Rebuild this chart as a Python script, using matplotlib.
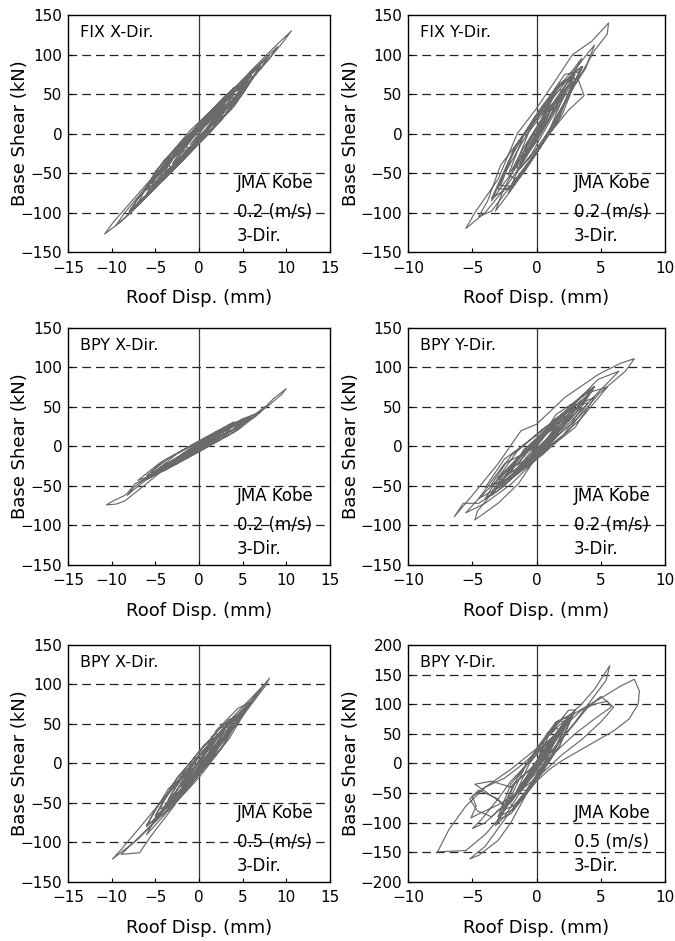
import numpy as np
import matplotlib.pyplot as plt

plt.rcParams['font.family'] = ['DejaVu Sans']

# (roof displacement mm, base shear kN) traced along each response history;
# the *_core lists are the many small cycles around the origin
fix_x = [
    (0, 0), (1.2, 18), (2.5, 31), (1.0, 8), (-1.5, -24), (-3, -38),
    (-1.5, -14), (1.5, 24), (4, 50), (2.0, 20), (-2.0, -30), (-5, -62),
    (-3, -32), (1, 18), (6, 74), (4, 44), (0, -8), (-4, -56), (-8, -98),
    (-6, -68), (-2, -16), (2, 34), (6, 80), (8.5, 108), (10.6, 130),
    (9.5, 114), (6, 68), (2, 18), (-2, -32), (-6, -80), (-9, -112), (-10.8, -127),
    (-9.8, -112), (-6, -64), (-2, -16), (2, 32), (6, 78), (9, 110),
    (8, 94), (4, 44), (0, -10), (-4, -58), (-8, -102), (-9.5, -116),
    (-8.5, -100), (-5, -54), (-1, -2), (3, 42), (8, 98),
    (7, 82), (3, 30), (-1, -20), (-5, -68), (-8, -100),
    (-7, -82), (-3, -30), (1, 18), (5, 64), (7, 86),
    (6, 68), (2, 16), (-2, -30), (-6, -76),
    (-5, -58), (-2, -18), (2, 30), (5, 62),
    (4, 44), (1, 4), (-2, -30), (-4, -50),
    (-3, -32), (0, 8), (3, 40), (4, 50),
    (3, 32), (0, -8), (-3, -38),
    (-2, -20), (0, 6), (3, 38),
    (2, 20), (-0.5, -12), (-2, -25),
    (-1, -8), (1, 16), (2, 24),
    (1, 8), (-1, -14), (0, 0),
]
fix_x_core = [
    (0, 0), (2, 35), (4, 56), (5.5, 63), (3, 24), (-1, -24), (-4, -58), (-5.5, -63),
    (-3, -24), (1, 24), (4, 58), (6.5, 75), (4, 34), (0, -12), (-3.5, -52), (-6.5, -75),
    (-4, -34), (0, 12), (3, 48), (5, 58), (2.5, 16), (-1, -24), (-3.5, -52), (-4.5, -52),
    (-2, -11), (1, 22), (3, 44), (4, 46), (2, 12), (-1, -22), (-3, -44), (-3.5, -40),
    (-1.5, -6), (1, 20), (2.5, 38), (3, 35), (1.5, 6), (-1, -20), (-2.5, -36), (-2, -23),
    (0, 8), (1.5, 26), (2, 23), (0.5, -4), (-1, -18), (-1.5, -17), (0, 4), (1, 12),
    (4.5, 60), (7, 86), (5, 50), (1, -2), (-3, -46), (-7, -88), (-5, -48), (-1, 4),
    (3, 46), (6, 69), (3.5, 30), (-0.5, -18), (-4, -58), (-6, -69), (-3.5, -30),
    (0.5, 18), (4, 58), (0, 0),
]

fix_y = [
    (0, 0), (0.5, 18), (1, 26), (0.4, 6), (-0.6, -20), (-1.2, -30),
    (-0.6, -10), (0.5, 20), (1.8, 45), (1, 20), (-0.8, -24), (-2, -48),
    (-1, -18), (0.6, 24), (2.5, 62), (1.5, 32), (-0.5, -20), (-2.5, -62), (-3.5, -85),
    (-2.8, -60), (-1.5, -22), (0, 20), (1.5, 55), (2.8, 80), (3.5, 95),
    (2.5, 62), (1, 20), (-1, -35), (-2.5, -70), (-4, -100), (-5.5, -120),
    (-4.8, -100), (-3, -58), (-1.5, 0), (0, 32), (1.5, 68), (2.8, 100), (4.3, 117), (5.6, 140),
    (5.5, 126), (4.5, 105), (3, 62), (1.2, 10), (0, -22), (-1.5, -55), (-3.5, -98), (-4.5, -105),
    (-3.8, -85), (-2.8, -40), (-1.5, -12), (0, 18), (2, 60), (3.8, 98), (4.5, 112),
    (3.8, 82), (2.5, 50), (1, 5), (-0.5, -35), (-2, -72), (-3.2, -98),
    (-2.6, -72), (-1.2, -28), (0.3, 15), (2, 56), (3, 78), (3.6, 85),
    (3.2, 70), (3.7, 48), (2.5, 30), (0.8, -4), (-0.8, -45), (-2.2, -75),
    (-1.6, -52), (-0.4, -12), (1, 26), (2.3, 62), (3, 75),
    (2.2, 48), (0.9, 12), (-0.4, -26), (-1.6, -50),
    (-1, -30), (0.2, 4), (1.4, 38), (2, 50),
    (1.4, 30), (0.4, 2), (-0.8, -28), (-1.2, -36),
    (-0.6, -14), (0.4, 12), (1, 26),
    (0.5, 10), (-0.3, -10), (0, 0),
]
fix_y_core = [
    (0, 0), (1, 45), (2.2, 68), (3, 70), (1.8, 22), (-0.5, -35), (-2, -70), (-3, -70),
    (-1.8, -20), (0.5, 35), (2.2, 75), (3.3, 78), (2, 24), (0, -25), (-1.8, -66), (-2.8, -66),
    (-1.6, -15), (0.5, 36), (2, 66), (2.8, 66), (1.6, 14), (-0.3, -30), (-1.6, -58), (-2.2, -52),
    (-1, -2), (0.6, 34), (1.8, 56), (2.2, 52), (1, 4), (-0.5, -30), (-1.4, -46), (-1.6, -38),
    (-0.6, 2), (0.6, 28), (1.4, 40), (1.2, 26), (0, -10), (-0.9, -30), (-0.8, -14), (0.2, 10),
    (1.5, 55), (3.5, 85), (2.2, 38), (0.2, -20), (-1.8, -64), (-3.5, -82), (-2.2, -36),
    (-0.2, 20), (1.8, 64), (0, 0),
]

bpy_x_02 = [
    (0, 0), (1, 8), (2, 14), (1, 6), (-1, -8), (-2.5, -17),
    (-1.5, -9), (0.5, 5), (3, 20), (2, 11), (0, -3), (-3.5, -24),
    (-2.5, -15), (0, 2), (4, 27), (3, 17), (0, -4), (-4.5, -31),
    (-3.5, -21), (0, 3), (5, 31), (4, 22), (0, -5), (-5.5, -36),
    (-4.5, -27), (-1, -4), (3, 21), (6, 38), (5, 28), (1, 3), (-3, -23), (-6.5, -43),
    (-7.3, -47), (-8, -57), (-8.5, -62), (-10, -70), (-10.6, -74), (-9.5, -73),
    (-8.5, -69), (-7, -56), (-4, -29), (0, 2), (4, 26), (7, 44), (7.8, 52),
    (8.5, 60), (10, 73), (9.5, 66), (8, 52), (6, 35), (2, 9), (-2, -17),
    (-6, -42), (-7.5, -55), (-8.2, -62), (-7.5, -52), (-5, -32), (-1, -4),
    (3, 22), (6.5, 41), (7.5, 50), (6.5, 38), (3, 16), (-1, -10), (-4, -30),
    (-6, -42), (-5, -31), (-2, -12), (2, 16), (5, 32), (4, 22), (1, 2),
    (-2, -17), (-4, -28), (-3, -19), (0, 2), (3, 22), (2, 12), (0, -3),
    (-2, -15), (-1, -6), (1, 8), (0, 0),
]
bpy_x_02_core = [
    (0, 0), (2, 18), (4, 30), (5.5, 33), (3.5, 15), (0, -6), (-3.5, -27), (-5.5, -33),
    (-3.5, -15), (0, 6), (3.5, 27), (6, 37), (4, 18), (0, -6), (-4, -30), (-6, -37),
    (-4, -18), (0, 6), (3, 24), (4.5, 27), (2.5, 9), (-1, -12), (-3, -24), (-4.5, -27),
    (-2.5, -9), (1, 12), (3, 22), (3.5, 21), (1.5, 4), (-1, -11), (-2.5, -18), (-2, -10),
    (0, 5), (1.5, 12), (1, 4), (-0.5, -5), (2, 17), (5, 35), (7, 43), (4.5, 21), (0, -7),
    (-4, -31), (-7, -43), (-4.5, -21), (0, 7), (4, 31), (0, 0),
]

bpy_y_02 = [
    (0, 0), (0.8, 16), (1.5, 25), (0.8, 10), (-0.8, -16), (-1.5, -24),
    (-0.8, -8), (0.8, 18), (2.5, 40), (1.5, 20), (-0.5, -14), (-2.5, -40),
    (-1.5, -18), (0.5, 14), (3, 48), (2, 26), (-0.5, -16), (-3, -50),
    (-2, -26), (0.5, 16), (3.5, 58), (2.5, 34), (0, -10), (-3.5, -58),
    (-2.5, -34), (0.5, 18), (4, 65), (3, 42), (0, -12), (-4, -66),
    (-3, -40), (0, 10), (3.5, 62), (4.5, 75), (3.5, 50), (0.5, -4), (-3, -56), (-4.5, -72),
    (-5.7, -72), (-6.4, -89), (-5, -62), (-3, -22), (-1.2, 20), (0, 28), (2.2, 62),
    (4.8, 91), (6.5, 105), (7.6, 111), (7.3, 104), (6.9, 95), (4.8, 66), (3.3, 37),
    (0.9, 3), (0, -13), (-1.4, -47), (-3, -72), (-4.8, -93), (-4.6, -82), (-3, -50),
    (-1, -8), (1, 25), (3, 55), (4.8, 85), (6.4, 95), (5.5, 80), (4, 55), (2, 20),
    (0, -16), (-2, -48), (-4, -72), (-5.5, -84), (-4.5, -66), (-2.5, -34), (-0.5, 2),
    (1.5, 34), (3.5, 64), (4.5, 76), (3.5, 55), (1.5, 20), (-0.5, -16), (-2.5, -50),
    (-3.5, -62), (-2.5, -40), (-0.5, -4), (1.5, 30), (3, 52), (2, 30), (0, -6),
    (-2, -38), (-1, -18), (0.5, 12), (2, 34), (1, 12), (-0.5, -14), (0, 0),
]
bpy_y_02_core = [
    (0, 0), (1.2, 32), (3, 52), (4, 55), (2.5, 20), (0, -12), (-2.5, -44), (-4, -52),
    (-2.5, -16), (0, 14), (2.5, 48), (4.5, 62), (3, 24), (0.5, -8), (-2, -40), (-3.5, -48),
    (-2, -12), (0.5, 22), (2.5, 46), (3.5, 48), (2, 12), (-0.5, -18), (-2.5, -44), (-3, -40),
    (-1.5, -6), (0.5, 22), (2, 38), (2.5, 36), (1, 2), (-1, -26), (-2, -32), (-1, -4),
    (0.5, 16), (1.5, 24), (0.5, 0), (-0.5, -12), (1.5, 40), (4, 68), (5.5, 75), (3.5, 36),
    (0.5, -10), (-2.5, -48), (-4.5, -66), (-2.5, -22), (0, 0),
]

bpy_x_05 = [
    (0, 0), (1, 16), (2, 30), (1, 12), (-1, -16), (-2, -30),
    (-1, -12), (1, 18), (3, 44), (2, 24), (0, -6), (-3, -44),
    (-2, -24), (0, 8), (4, 56), (3, 36), (0, -10), (-4, -56),
    (-3, -36), (0, 10), (4.5, 62), (3.5, 42), (0, -14), (-5, -68),
    (-4, -46), (-1, -4), (3, 46), (5.5, 72), (4.5, 52), (1, 2), (-3, -48), (-6, -80),
    (-5, -58), (-2, -16), (2, 34), (6, 80), (8.1, 108), (7.6, 98), (5, 60), (1, 4),
    (-3, -52), (-7, -96), (-9.9, -121), (-9, -110), (-7, -84), (-4, -44), (0, 10),
    (4, 60), (7.5, 100), (7, 92), (4.5, 55), (1, 4), (-2.5, -42), (-6, -84),
    (-8.9, -115), (-6.8, -113), (-5.5, -92), (-3, -56), (0, -6), (3, 40), (6, 78),
    (5, 62), (2, 20), (-1, -24), (-4, -66), (-6, -90), (-5, -70), (-2.5, -34),
    (0.5, 10), (3.5, 52), (4.5, 62), (3.5, 44), (0.5, 0), (-2.5, -40), (-4, -58),
    (-3, -40), (-0.5, -4), (2, 34), (3, 44), (2, 26), (-0.5, -12), (-2, -32),
    (-1, -14), (1, 18), (0, 0),
]
bpy_x_05_core = [
    (0, 0), (1.5, 34), (3.5, 56), (4.5, 58), (2.5, 18), (0, -14), (-2.5, -46), (-4.5, -58),
    (-2.5, -18), (0, 14), (2.5, 46), (5, 66), (3, 26), (0, -14), (-3, -52), (-5, -66),
    (-3, -26), (0, 14), (2.5, 46), (3.5, 46), (1.5, 6), (-1, -28), (-3, -50), (-3.5, -46),
    (-1.5, -6), (0.5, 22), (2, 38), (2.5, 33), (1, 0), (-1, -24), (-2, -30), (-1, -2),
    (0.5, 16), (1.5, 20), (0.5, -4), (-0.5, -14), (2, 42), (4.5, 70), (6, 78), (3.5, 32),
    (0, -18), (-3.5, -60), (-6, -78), (-3.5, -32), (0, 0),
]

bpy_y_05 = [
    (0, 0), (0.5, 20), (1, 35), (0.4, 12), (-0.5, -18), (-1, -32),
    (-0.4, -10), (0.6, 22), (1.5, 50), (0.8, 24), (-0.6, -20), (-1.5, -50),
    (-0.8, -24), (0.6, 24), (2, 65), (1.2, 36), (-0.5, -22), (-2, -66),
    (-1.2, -36), (0.5, 20), (2.5, 80), (3.5, 100), (4.5, 125), (5.7, 165),
    (5.4, 140), (4.2, 105), (3, 70), (1.5, 30), (0, -10), (-2, -60), (-3, -95),
    (-4, -120), (-5.5, -147), (-7.7, -149), (-6.8, -111), (-5.5, -72), (-4, -40),
    (-2, -10), (0, 25), (1.5, 60), (3, 85), (5, 110), (6.5, 130), (7.6, 142),
    (8, 122), (7.9, 100), (7.2, 75), (6, 55), (4, 30), (2, 5), (1, -10),
    (-0.5, -40), (-2, -80), (-3, -110), (-4, -140), (-5.2, -161), (-4.5, -155),
    (-3, -130), (-2, -100), (-1, -60), (0, -20), (1, 15), (2.5, 55), (4, 95),
    (5, 113), (6, 95), (5, 70), (3.5, 40), (2, 15), (0.5, -15), (-1.5, -50),
    (-3, -70), (-4.5, -85), (-5.1, -92), (-4.7, -72), (-5, -56), (-4, -40),
    (-2.5, -25), (-1, 0), (0.5, 30), (2, 60), (3.5, 90), (4.5, 100), (5.5, 105),
    (5.8, 95), (4.5, 75), (3, 50), (1, 10), (-1, -40), (-2.5, -70), (-4, -100),
    (-5, -110), (-4.3, -95), (-3, -60), (-2, -30), (0, 15), (1.5, 50), (2.5, 75),
    (1.5, 40), (0, -5), (-1.5, -45), (-2.5, -80), (-3.2, -105), (-2.5, -90),
    (-1, -40), (0.5, 10), (2, 55), (2.8, 83), (2, 55), (0.5, 5), (-1, -35),
    (-2.5, -75), (-3, -60), (-4.5, -45), (-5.2, -60), (-4.6, -80), (-3.5, -90),
    (-2.5, -70), (-3.8, -50), (-4.8, -35), (-3.5, -30), (-2, -40), (-0.5, -10),
    (1, 30), (2, 58), (1.2, 30), (-0.2, -10), (-1.5, -45), (-1, -30), (0.3, 10),
    (1.2, 35), (0.5, 10), (-0.5, -20), (0, 0),
]
bpy_y_05_core = [
    (0, 0), (0.8, 50), (2, 75), (2.6, 78), (1.5, 25), (0, -25), (-1.5, -70), (-2.6, -78),
    (-1.5, -25), (0, 25), (1.5, 70), (2.8, 84), (1.8, 30), (0, -25), (-1.8, -78), (-3, -90),
    (-2, -35), (0, 20), (1.6, 70), (2.4, 72), (1.2, 15), (-0.4, -35), (-1.8, -72), (-2.2, -66),
    (-1, -10), (0.4, 35), (1.6, 60), (1.8, 54), (0.6, 0), (-0.8, -45), (-1.5, -45), (-0.6, -2),
    (0.5, 30), (1.2, 36), (0.4, 0), (-0.5, -25), (1, 50), (2.5, 90), (3, 90), (1.8, 30),
    (0, -30), (-2, -85), (-3, -95), (-1.8, -35), (0, 0),
]

titles = ["FIX X-Dir.", "FIX Y-Dir.", "BPY X-Dir.", "BPY Y-Dir.", "BPY X-Dir.", "BPY Y-Dir."]
speeds = ["0.2", "0.2", "0.2", "0.2", "0.5", "0.5"]
histories = [fix_x + fix_x_core, fix_y + fix_y_core, bpy_x_02 + bpy_x_02_core,
             bpy_y_02 + bpy_y_02_core, bpy_x_05 + bpy_x_05_core, bpy_y_05 + bpy_y_05_core]
x_limits = [15, 10, 15, 10, 15, 10]
y_limits = [150, 150, 150, 150, 150, 200]

fig = plt.figure(figsize=(6.75, 9.41), dpi=100)
lefts = [0.1007, 0.6044]
widths = [0.388, 0.381]
bottoms = [0.732, 0.3996, 0.0627]
height = 0.252
ylabel_x = [-0.15, -0.185]

for i, data in enumerate(histories):
    row, col = divmod(i, 2)
    ax = fig.add_axes([lefts[col], bottoms[row], widths[col], height])
    d, f = np.array(data, dtype=float).T
    xl, yl = x_limits[i], y_limits[i]

    for yv in np.arange(-yl + 50, yl, 50):
        ax.axhline(yv, color='#222222', lw=0.9, ls=(0, (7, 4)), zorder=1)
    ax.axvline(0, color='#333333', lw=0.9, zorder=1)
    ax.plot(d, f, color='#6a6a6a', lw=0.85, zorder=2)

    ax.set_xlim(-xl, xl)
    ax.set_ylim(-yl, yl)
    ax.set_xticks(np.arange(-xl, xl + 1, 5))
    ax.set_yticks(np.arange(-yl, yl + 1, 50))
    ax.tick_params(direction='in', length=3, labelsize=11)
    ax.tick_params(axis='x', pad=6)
    ax.tick_params(axis='y', pad=4)
    for s in ax.spines.values():
        s.set_linewidth(1.0)

    ax.set_xlabel("Roof Disp. (mm)", fontsize=13)
    ax.set_ylabel("Base Shear (kN)", fontsize=13)
    ax.xaxis.set_label_coords(0.5, -0.155)
    ax.yaxis.set_label_coords(ylabel_x[col], 0.5)

    ax.text(0.046, 0.925, titles[i], transform=ax.transAxes, fontsize=11.5,
            va='center', ha='left', zorder=3)
    ax.text(0.645, 0.291, "JMA Kobe", transform=ax.transAxes, fontsize=12,
            va='center', ha='left', zorder=3)
    ax.text(0.645, 0.169, speeds[i] + " (m/s)", transform=ax.transAxes, fontsize=12,
            va='center', ha='left', zorder=3)
    ax.text(0.645, 0.068, "3-Dir.", transform=ax.transAxes, fontsize=12,
            va='center', ha='left', zorder=3)

fig.savefig("out.png", dpi=100)
